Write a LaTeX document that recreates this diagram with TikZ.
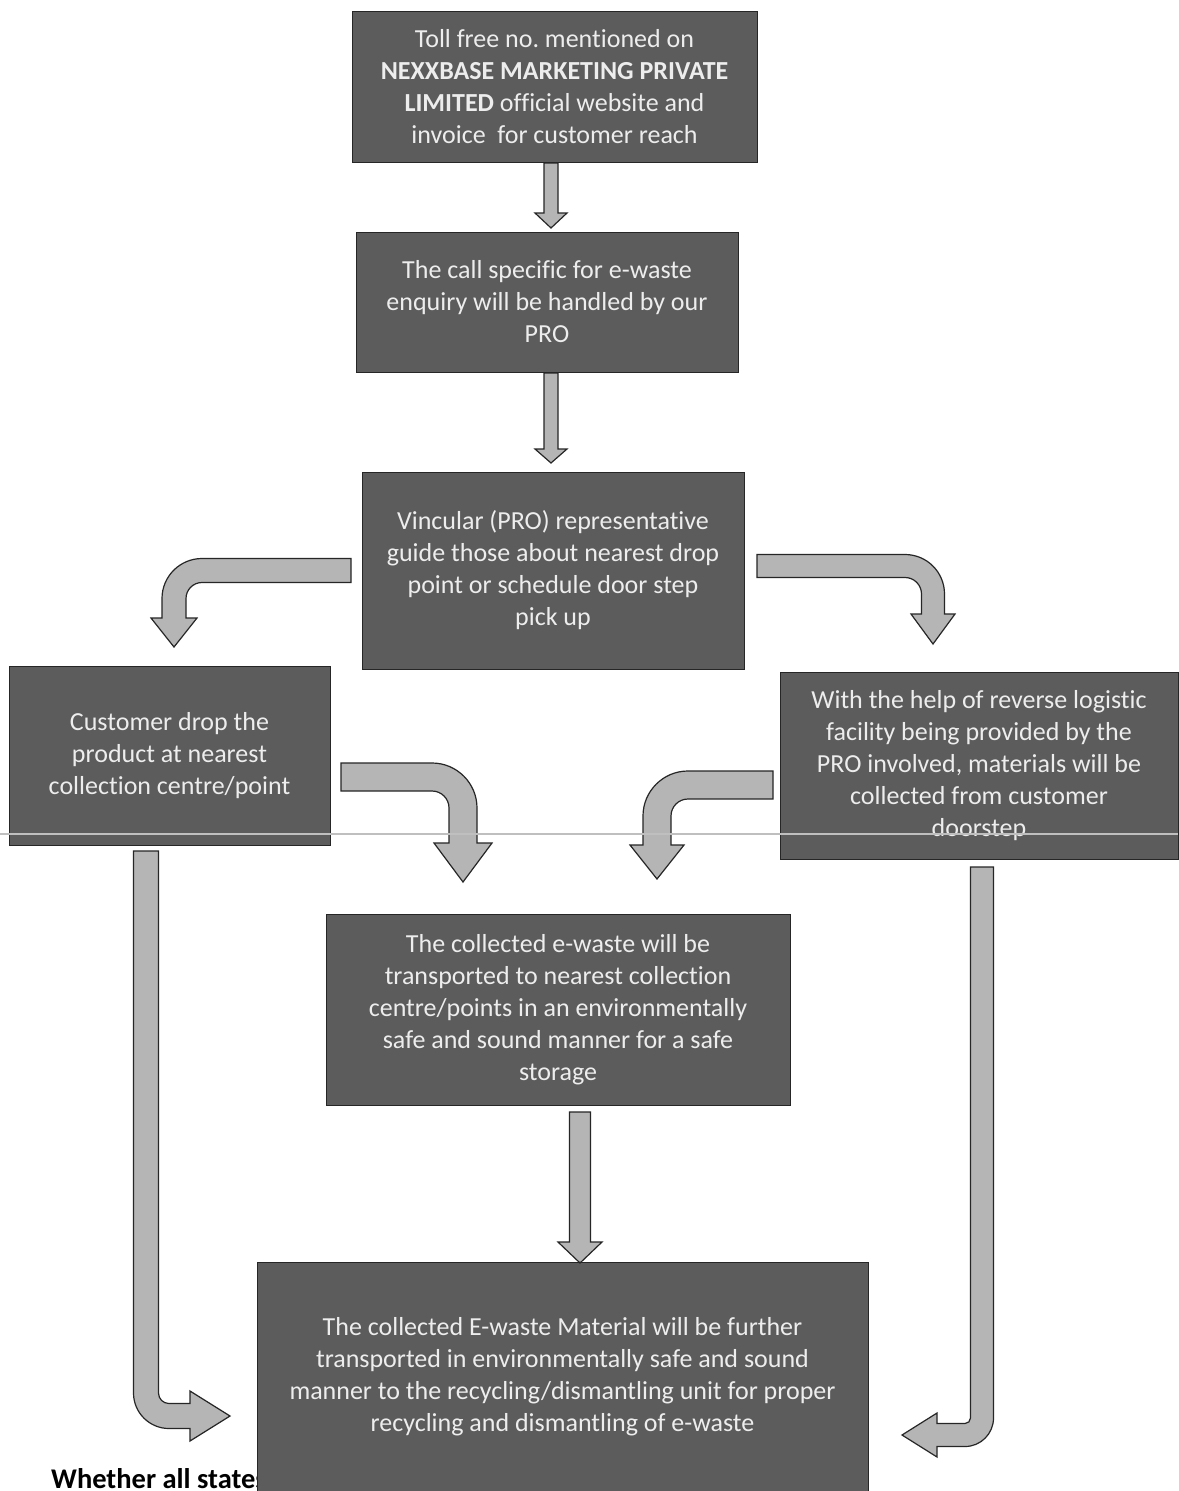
\documentclass[tikz,border=0pt]{standalone}
\usepackage{fontspec}
\setmainfont{Carlito}[Ligatures=NoCommon]
\usetikzlibrary{calc}
% bent block arrow: horizontal shaft first, then turns down
\newcommand\hbent[7]{\draw[blockarrow,#1] (0,-#5) -- (#2,-#5) .. controls ({#2+0.5523*(#3+#5)},-#5) and ({#2+#3+#5},{#3-0.5523*(#3+#5)}) .. ({#2+#3+#5},#3) -- ({#2+#3+#5},{#3+#4}) -- ({#2+#3+#6},{#3+#4}) -- ({#2+#3},{#3+#4+#7}) -- ({#2+#3-#6},{#3+#4}) -- ({#2+#3-#5},{#3+#4}) -- ({#2+#3-#5},#3) .. controls ({#2+#3-#5},{#3-0.5523*(#3-#5)}) and ({#2+0.5523*(#3-#5)},#5) .. (#2,#5) -- (0,#5) -- cycle;}
% bent block arrow: vertical shaft first, then turns right
\newcommand\vbent[7]{\draw[blockarrow,#1] (-#5,0) -- (-#5,#2) .. controls (-#5,{#2+0.5523*(#3+#5)}) and ({#3-0.5523*(#3+#5)},{#2+#3+#5}) .. (#3,{#2+#3+#5}) -- ({#3+#4},{#2+#3+#5}) -- ({#3+#4},{#2+#3+#6}) -- ({#3+#4+#7},{#2+#3}) -- ({#3+#4},{#2+#3-#6}) -- ({#3+#4},{#2+#3-#5}) -- (#3,{#2+#3-#5}) .. controls ({#3-0.5523*(#3-#5)},{#2+#3-#5}) and (#5,{#2+0.5523*(#3-#5)}) .. (#5,#2) -- (#5,0) -- cycle;}
% straight downward block arrow
\newcommand\vstraight[5]{\draw[blockarrow,#1] (-#3,0) -- (-#3,#2) -- (-#4,#2) -- (0,{#2+#5}) -- (#4,#2) -- (#3,#2) -- (#3,0) -- cycle;}
\begin{document}
\begin{tikzpicture}[x=1pt,y=-1pt,
  box/.style={rectangle,draw=black!85,line width=1pt,fill=black!64,
    text=white!93!black,align=center,inner sep=0pt,outer sep=0pt,
    font=\fontsize{26}{32}\selectfont},
  blockarrow/.style={draw=black!85,line width=1.2pt,fill=black!29,line join=miter}]
\useasboundingbox (0,0) rectangle (1178,1491);
\fill[white] (0,0) rectangle (1178,1491);
% partly hidden caption under the last box
\node[anchor=base west,inner sep=0pt,font=\fontsize{28.5}{32}\selectfont\bfseries] (cap) at (51,1488) {Whether all states are covered:};
% boxes
\node[box,minimum width=405pt,minimum height=151pt] (b1) at (554.5,86.5)
  {Toll free no.\ mentioned on\\\textbf{NEXXBASE MARKETING PRIVATE}\\\textbf{LIMITED} official website and\\invoice \ for customer reach};
\node[box,minimum width=382pt,minimum height=140pt] (b2) at (547,302)
  {The call specific for e-waste\\enquiry will be handled by our\\PRO};
\node[box,minimum width=382pt,minimum height=197pt] (b3) at (553,570.5)
  {Vincular (PRO) representative\\guide those about nearest drop\\point or schedule door step\\pick up};
\node[box,minimum width=321pt,minimum height=179pt] (b4) at (169.5,755.5)
  {Customer drop the\\product at nearest\\collection centre/point};
\node[box,minimum width=398pt,minimum height=187pt] (b5) at (979,765.5)
  {With the help of reverse logistic\\facility being provided by the\\PRO involved, materials will be\\collected from customer\\doorstep};
\node[box,minimum width=464pt,minimum height=191pt] (b6) at (558,1009.5)
  {The collected e-waste will be\\transported to nearest collection\\centre/points in an environmentally\\safe and sound manner for a safe\\storage};
\node[box,minimum width=611pt,minimum height=229pt] (b7) at (562.5,1376.5)
  {The collected E-waste Material will be further\\transported in environmentally safe and sound\\manner to the recycling/dismantling unit for proper\\recycling and dismantling of e-waste};
% straight arrows
\vstraight{shift={($(b1.south)+(-3.5,1)$)}}{50}{7}{16}{15}
\vstraight{shift={($(b2.south)+(4,1)$)}}{76}{7}{16}{14}
\vstraight{shift={($(b6.south)+(22,7)$)}}{130}{10.5}{22}{21}
% bent arrows from b3
\hbent{shift={($(b3.west)+(-11,0)$)},xscale=-1}{149}{28}{19.5}{12}{23}{29}
\hbent{shift={($(b3.east)+(13,-4.5)$)}}{148}{28}{20}{11.5}{22}{30}
% bent arrows into b6
\hbent{shift={($(b4.east)+(11,21.5)$)}}{91}{31}{35}{14}{29}{39}
\hbent{shift={($(b5.west)+(-7,19.5)$)},xscale=-1}{85}{31}{29}{14}{27}{34}
% long arrows into b7
\vbent{shift={($(b4.south)+(-23.5,6)$)}}{542}{23}{21}{12.5}{25}{40}
\vbent{shift={($(b5.south)+(3,8)$)},xscale=-1}{551}{17}{28}{11.5}{22}{35}
% faint scan line across the page
\draw[black!25,line width=2pt] (0,834) -- (1178,834);
\end{tikzpicture}
\end{document}
